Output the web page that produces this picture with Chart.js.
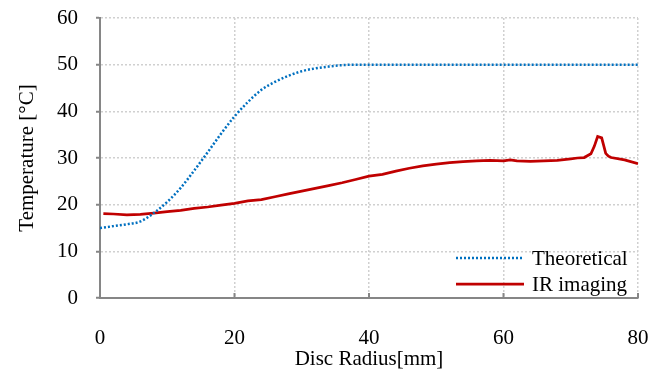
<!DOCTYPE html>
<html>
<head>
<meta charset="utf-8">
<script src="https://cdn.jsdelivr.net/npm/chart.js@4/dist/chart.umd.min.js"></script>
<style>
  html, body { margin: 0; padding: 0; background: #fff; }
  #wrap { width: 661px; height: 375px; }
</style>
</head>
<body>
<div id="wrap"><canvas id="tempChart" width="661" height="375"></canvas></div>
<script>
// data
const thX = [0, 2, 4, 6, 8, 10, 12, 14, 16, 18, 20, 22, 24, 26, 28, 30, 32, 34, 36, 38, 40, 50, 60, 70, 80];
const thY = [15, 15.4, 15.8, 16.4, 18.2, 20.6, 23.6, 27.3, 31.2, 35.2, 38.9, 42.0, 44.6, 46.3, 47.6, 48.6, 49.2, 49.6, 49.9, 50, 50, 50, 50, 50, 50];
const irX = [0.5, 2, 4, 6, 8, 10, 12, 14, 16, 18, 20, 22, 24, 26, 28, 30, 32, 34, 36, 38, 40, 42, 44, 46, 48, 50, 52, 54, 56, 58, 60, 61, 62, 64, 66, 68, 70, 71, 72, 73, 73.5, 74, 74.6, 75.2, 75.6, 76, 78, 80];
const irY = [18.1, 18.0, 17.8, 17.9, 18.2, 18.5, 18.8, 19.2, 19.5, 19.9, 20.3, 20.8, 21.1, 21.7, 22.3, 22.9, 23.5, 24.1, 24.7, 25.4, 26.1, 26.5, 27.2, 27.8, 28.3, 28.7, 29.0, 29.2, 29.4, 29.5, 29.4, 29.6, 29.4, 29.3, 29.4, 29.5, 29.8, 30.0, 30.1, 30.9, 32.5, 34.6, 34.3, 31.0, 30.4, 30.1, 29.6, 28.8];
const seriesNames = ['Theoretical', 'IR imaging'];
const xTicks = [0, 20, 40, 60, 80];
const yTicks = [0, 10, 20, 30, 40, 50, 60];

const FONT = { family: '"Liberation Serif", "Times New Roman", serif', size: 21 };
const AXIS = '#868686';
const GRID = '#d0d0d0';

// x ticks point inward on the bottom axis, legend sits inside the plot
const extras = {
    id: 'extras',
    afterDraw(chart) {
        const ctx = chart.ctx, xs = chart.scales.x, a = chart.chartArea;
        ctx.save();
        ctx.strokeStyle = AXIS; ctx.lineWidth = 2;
        xTicks.forEach(v => {
            if (v === 0) return;
            const px = xs.getPixelForValue(v);
            ctx.beginPath(); ctx.moveTo(px, a.bottom); ctx.lineTo(px, a.bottom - 5); ctx.stroke();
        });
        // legend
        const rows = [258, 284];
        chart.data.datasets.forEach((ds, i) => {
            ctx.strokeStyle = ds.borderColor;
            ctx.lineWidth = ds.borderWidth;
            ctx.setLineDash(ds.borderDash || []);
            ctx.beginPath(); ctx.moveTo(456, rows[i]); ctx.lineTo(524, rows[i]); ctx.stroke();
            ctx.setLineDash([]);
            ctx.fillStyle = '#000';
            ctx.font = FONT.size + 'px ' + FONT.family;
            ctx.textBaseline = 'middle';
            ctx.fillText(ds.label, 532, rows[i] + 1);
        });
        ctx.restore();
    }
};

const ctx = document.getElementById('tempChart').getContext('2d');
new Chart(ctx, {
    type: 'line',
    data: {
        datasets: [
            {
                label: seriesNames[0],
                data: thX.map((x, i) => ({ x: x, y: thY[i] })),
                borderColor: '#0070C0', borderWidth: 2.5, borderDash: [2, 2],
                pointRadius: 0, cubicInterpolationMode: 'monotone', fill: false
            },
            {
                label: seriesNames[1],
                data: irX.map((x, i) => ({ x: x, y: irY[i] })),
                borderColor: '#C00000', borderWidth: 2.75,
                pointRadius: 0, tension: 0, fill: false
            }
        ]
    },
    options: {
        responsive: false, animation: false,
        layout: { padding: { top: 18, right: 23, bottom: 0, left: 0 } },
        plugins: { legend: { display: false }, tooltip: { enabled: false } },
        scales: {
            x: {
                type: 'linear', min: 0, max: 80,
                afterBuildTicks: s => { s.ticks = xTicks.map(v => ({ value: v })); },
                afterFit: s => { s.height = 77; s.paddingLeft = 0; s.paddingRight = 0; },
                ticks: { font: FONT, color: '#000', padding: 28, maxRotation: 0 },
                grid: { color: GRID, lineWidth: 1.5, drawTicks: false },
                border: { display: true, color: AXIS, width: 2, dash: [2, 2] },
                title: { display: true, text: 'Disc Radius[mm]', font: FONT, color: '#000', padding: { top: 0, bottom: 3 } }
            },
            y: {
                min: 0, max: 60,
                afterBuildTicks: s => { s.ticks = yTicks.map(v => ({ value: v })); },
                afterFit: s => { s.width = 100; s.paddingTop = 0; s.paddingBottom = 0; },
                ticks: { font: FONT, color: '#000', padding: 18 },
                grid: { color: GRID, lineWidth: 1.5, tickLength: 4, tickColor: AXIS, tickBorderDash: [], tickWidth: 2 },
                border: { display: true, color: AXIS, width: 2, dash: [2, 2] },
                title: { display: true, text: 'Temperature [°C]', font: FONT, color: '#000', padding: { top: 15, bottom: 0 } }
            }
        }
    },
    plugins: [extras]
});
</script>
</body>
</html>
